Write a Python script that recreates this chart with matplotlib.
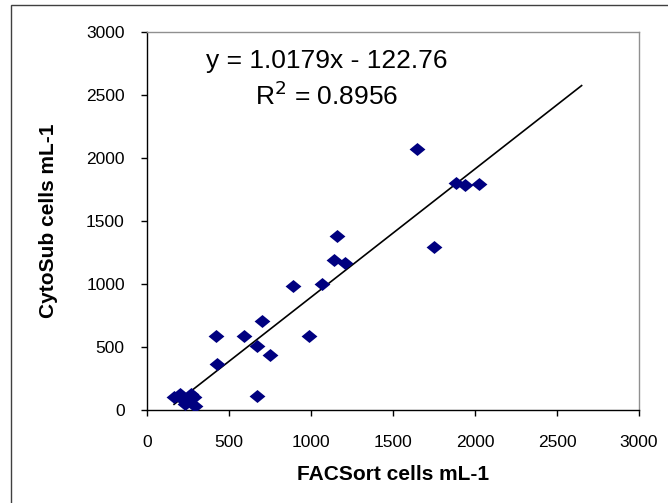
import matplotlib
matplotlib.use("Agg")
import matplotlib.pyplot as plt
from matplotlib.patches import Rectangle
import numpy as np

plt.rcParams['font.family'] = ['Liberation Sans', 'DejaVu Sans']

facsort = [165, 200, 215, 230, 250, 270, 285, 295,
           428, 423, 590, 673, 673, 699, 751, 891, 987,
           1070, 1143, 1156, 1208, 1649, 1748, 1883, 1940, 2026]
cytosub = [100, 130, 90, 50, 80, 130, 100, 30,
           367, 589, 589, 504, 108, 710, 438, 988, 589,
           998, 1191, 1381, 1165, 2068, 1294, 1804, 1783, 1791]
slope = 1.0179
intercept = -122.76
r2 = 0.8956
line_x_end = 2650
xticks = [0, 500, 1000, 1500, 2000, 2500, 3000]
yticks = [0, 500, 1000, 1500, 2000, 2500, 3000]

fig = plt.figure(figsize=(6.68, 5.03), dpi=100)
W, H = 668, 503
ax = fig.add_axes([147 / W, 1 - 410 / H, (639 - 147) / W, (410 - 32) / H])

diamond = [(-1, 0), (0, 0.82), (1, 0), (0, -0.82), (-1, 0)]
ax.scatter(facsort, cytosub, marker=diamond, s=130, color='#000080',
           linewidths=0, zorder=3)

lx = np.array([min(facsort), line_x_end])
ax.plot(lx, slope * lx + intercept, color='black', lw=1.2, zorder=2)

ax.set_xlim(0, 3000)
ax.set_ylim(0, 3000)
ax.set_xticks(xticks)
ax.set_yticks(yticks)
ax.tick_params(axis='both', direction='out', length=4, width=1, labelsize=12.5)
ax.tick_params(axis='y', pad=12)
ax.tick_params(axis='x', pad=14)

for s in ['left', 'bottom']:
    ax.spines[s].set_color('black')
    ax.spines[s].set_linewidth(1)
for s in ['top', 'right']:
    ax.spines[s].set_color('#909090')
    ax.spines[s].set_linewidth(1)

ax.set_xlabel('FACSort cells mL-1', fontsize=15, fontweight='bold', labelpad=11)
ax.set_ylabel('CytoSub cells mL-1', fontsize=15, fontweight='bold', labelpad=20)

fig.text(327 / W, 1 - 61 / H, f'y = {slope:.4f}x - {abs(intercept):.2f}',
         fontsize=19, ha='center', va='center')
fig.text(327 / W, 1 - 96 / H, f'R$^2$ = {r2:.4f}',
         fontsize=19, ha='center', va='center')

fig.patches.append(Rectangle((10.5 / W, -0.1), 1.2, 1 - 5.5 / H + 0.1,
                             transform=fig.transFigure, fill=False,
                             edgecolor='#404040', lw=1, clip_on=False))

fig.savefig('out.png', dpi=100)
